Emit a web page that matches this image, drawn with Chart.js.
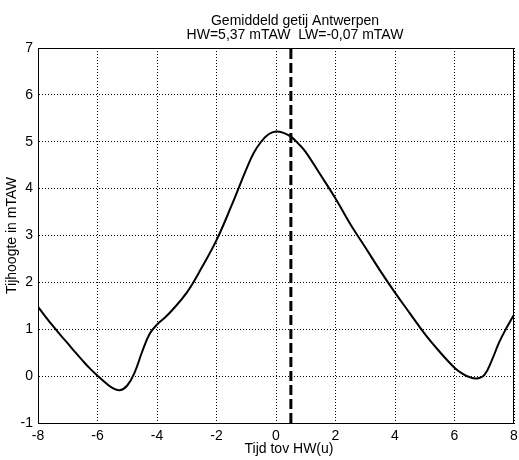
<!DOCTYPE html>
<html lang="nl">
<head>
<meta charset="UTF-8">
<title>Gemiddeld getij Antwerpen</title>
<script src="https://cdn.jsdelivr.net/npm/chart.js"></script>
<style>
  html, body { margin: 0; padding: 0; background: #fff; }
</style>
</head>
<body>
<canvas id="tideChart" width="519" height="460"></canvas>
<script>
// tijd t.o.v. hoogwater (uur) en waterhoogte (mTAW)
const hours = [-8, -7.75, -7.5, -7.25, -7, -6.75, -6.5, -6.25, -6, -5.75, -5.5, -5.25, -5, -4.75, -4.5, -4.25, -4, -3.75,
  -3.5, -3, -2.5, -2, -1.5, -1, -0.75, -0.5, -0.25, 0, 0.25, 0.5, 0.75, 1, 1.5, 2, 2.5, 3, 3.5, 4, 4.5, 5,
  5.5, 6, 6.25, 6.5, 6.75, 7, 7.25, 7.5, 7.75, 8];
const heights = [1.48, 1.27, 1.07, 0.88, 0.7, 0.51, 0.33, 0.16, 0.01, -0.13, -0.25, -0.3, -0.2, 0.08, 0.52, 0.9, 1.1, 1.24,
  1.4, 1.78, 2.31, 2.9, 3.63, 4.41, 4.76, 5.0, 5.16, 5.22, 5.19, 5.11, 4.96, 4.78, 4.29, 3.79, 3.24, 2.75, 2.25, 1.78, 1.34, 0.9,
  0.52, 0.18, 0.06, -0.02, -0.05, 0.02, 0.33, 0.72, 1.03, 1.31];
const hwTime = 0.5;
const xTicks = [-8, -6, -4, -2, 0, 2, 4, 6, 8];
const yTicks = [-1, 0, 1, 2, 3, 4, 5, 6, 7];
const titleLines = ['Gemiddeld getij Antwerpen', 'HW=5,37 mTAW  LW=-0,07 mTAW'];
const xLabel = 'Tijd tov HW(u)';
const yLabel = 'Tijhoogte in mTAW';

const font = "'Liberation Sans', Arial, sans-serif";

// kader rond het plotvlak + titel en aslabels zoals in de matlab-figuur
const frameAndTitle = {
  id: 'frameAndTitle',
  afterDatasetsDraw(chart) {
    const { ctx, chartArea: a } = chart;
    ctx.save();
    ctx.strokeStyle = '#000';
    ctx.lineWidth = 1;
    ctx.strokeRect(a.left + 0.5, a.top + 0.5, a.right - a.left - 1, a.bottom - a.top);
    ctx.fillStyle = '#000';
    ctx.font = `14px ${font}`;
    ctx.textAlign = 'center';
    ctx.textBaseline = 'middle';
    ctx.fillText(titleLines[0], 295, 21);
    ctx.fillText(titleLines[1], 295, 35);
    ctx.fillText(xLabel, 289, 449);
    ctx.translate(12, (a.top + a.bottom) / 2);
    ctx.rotate(-Math.PI / 2);
    ctx.fillText(yLabel, 0, 0);
    ctx.restore();
  }
};

new Chart(document.getElementById('tideChart'), {
  type: 'scatter',
  data: {
    datasets: [
      {
        data: hours.map((h, i) => ({ x: h, y: heights[i] })),
        showLine: true,
        borderColor: '#000',
        borderWidth: 2,
        pointRadius: 0,
        tension: 0.4
      },
      {
        data: [{ x: hwTime, y: yTicks[0] }, { x: hwTime, y: yTicks[yTicks.length - 1] }],
        showLine: true,
        borderColor: '#000',
        borderWidth: 3,
        borderDash: [10, 4],
        pointRadius: 0
      }
    ]
  },
  options: {
    responsive: false,
    animation: false,
    devicePixelRatio: 1,
    layout: { padding: { top: 48, right: 5, left: 0, bottom: 0 } },
    plugins: { legend: { display: false }, tooltip: { enabled: false }, title: { display: false } },
    scales: {
      x: {
        type: 'linear', min: -8, max: 8,
        afterBuildTicks: s => { s.ticks = xTicks.map(v => ({ value: v })); },
        afterFit: s => { s.height = 37; s.paddingLeft = 0; s.paddingRight = 0; },
        grid: { color: '#000', lineWidth: 1, drawTicks: false },
        border: { color: '#000', dash: [1, 2] },
        ticks: { color: '#000', font: { family: font, size: 14 }, padding: 5, maxRotation: 0 }
      },
      y: {
        type: 'linear', min: -1, max: 7,
        afterBuildTicks: s => { s.ticks = yTicks.map(v => ({ value: v })); },
        afterFit: s => { s.width = 38; s.paddingTop = 0; s.paddingBottom = 0; },
        grid: { color: '#000', lineWidth: 1, drawTicks: false },
        border: { color: '#000', dash: [1, 2] },
        ticks: { color: '#000', font: { family: font, size: 14 }, padding: 5 }
      }
    }
  },
  plugins: [frameAndTitle]
});
</script>
</body>
</html>
